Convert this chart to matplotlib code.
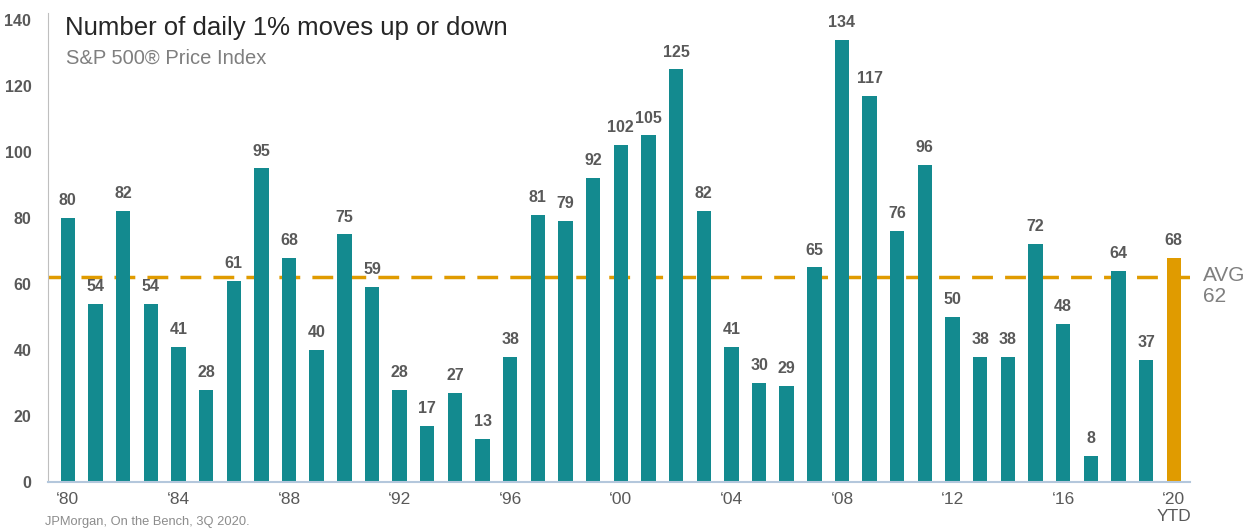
import matplotlib
matplotlib.use('Agg')
import matplotlib.pyplot as plt
import numpy as np

plt.rcParams['font.family'] = ['Liberation Sans', 'DejaVu Sans']

years = list(range(1980, 2021))
moves = [80, 54, 82, 54, 41, 28, 61, 95, 68, 40, 75, 59, 28, 17, 27, 13, 38, 81, 79, 92,
         102, 105, 125, 82, 41, 30, 29, 65, 134, 117, 76, 96, 50, 38, 38, 72, 48, 8, 64, 37, 68]
avg = 62
tick_years = [1980, 1984, 1988, 1992, 1996, 2000, 2004, 2008, 2012, 2016, 2020]
tick_labels = ['\u201880', '\u201884', '\u201888', '\u201892', '\u201896', '\u201800',
               '\u201804', '\u201808', '\u201812', '\u201816', '\u201820\nYTD']

TEAL = '#138a8f'
GOLD = '#e09b00'
GREY = '#595959'

fig = plt.figure(figsize=(12.52, 5.29), dpi=100)
ax = fig.add_axes([0.0383, 0.0888, 0.912, 0.886])

x = np.arange(len(years))
colors = [TEAL] * (len(years) - 1) + [GOLD]
ax.bar(x, moves, width=0.52, color=colors, zorder=2)

for xi, v in zip(x, moves):
    ax.text(xi, v + 3, str(v), ha='center', va='bottom', fontsize=11.5,
            fontweight='bold', color=GREY)

ax.axhline(avg, color=GOLD, lw=2.5, ls=(0, (6, 3.5)), zorder=1)
ax.text(len(years) + 0.05, avg - 2.5, 'AVG\n62', ha='left', va='center', fontsize=15,
        color='#7f7f7f', linespacing=1.15)

ax.set_xlim(-0.72, len(years) - 0.42)
ax.set_ylim(0, 142)
ax.set_yticks(range(0, 141, 20))
ax.set_xticks([years.index(y) for y in tick_years])
ax.set_xticklabels(tick_labels, fontsize=12.5, color=GREY, linespacing=1.2)
ax.tick_params(axis='y', length=0, labelsize=11.5, labelcolor=GREY, pad=12)
ax.tick_params(axis='x', length=0, pad=7)
for lbl in ax.get_yticklabels():
    lbl.set_fontweight('bold')

for s in ['top', 'right']:
    ax.spines[s].set_visible(False)
ax.spines['left'].set_color('#bfbfbf')
ax.spines['bottom'].set_color('#b4c7dc')
ax.spines['bottom'].set_linewidth(1.5)

fig.text(65 / 1252, 1 - 28 / 529, 'Number of daily 1% moves up or down', fontsize=18.5,
         color='#262626', va='center', ha='left')
fig.text(66 / 1252, 1 - 58 / 529, 'S&P 500\u00ae Price Index', fontsize=14.5,
         color='#7f7f7f', va='center', ha='left')
fig.text(45 / 1252, 1 - 522 / 529, 'JPMorgan, On the Bench, 3Q 2020.', fontsize=9.3,
         color='#8c8c8c', va='center', ha='left')

fig.savefig('out.png', dpi=100)
